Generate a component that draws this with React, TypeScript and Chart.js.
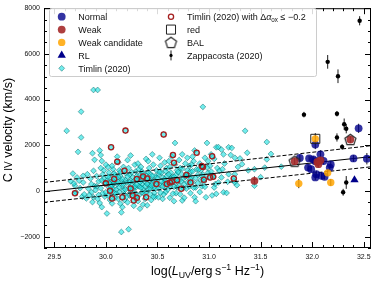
import React, { useEffect, useRef } from 'react';
import { Chart, registerables } from 'chart.js';
import { drawPoint } from 'chart.js/helpers';

Chart.register(...registerables);

const FONT = '"Liberation Sans", Arial, Helvetica, sans-serif';

// ---------- axes ----------
const xLimits = [29.4, 32.57];
const yLimits = [-2500, 8000];
const xTickValues = [29.5, 30.0, 30.5, 31.0, 31.5, 32.0, 32.5];
const xTickLabels = ['29.5', '30.0', '30.5', '31.0', '31.5', '32.0', '32.5'];
const yTickValues = [-2000, 0, 2000, 4000, 6000, 8000];
const yTickLabels = ['\u22122000', '0', '2000', '4000', '6000', '8000'];
const xMinorStep = 0.1;
const yMinorStep = 500;
const xTitle = 'log(*L*_{UV}/erg\u2009s^{\u22121} Hz^{\u22121})';
const yTitle = 'C\u2009~{IV} velocity (km/s)';

// ---------- data ----------
type P = [number, number];

const normalPts: P[] = [
  [31.88, 1440], [31.97, 1420], [32.01, 1380], [32.03, 1300], [32.03, 2030], [32.08, 1600],
  [32.11, 1310], [32.18, 1160], [32.17, 1020], [31.96, 1020], [31.99, 950], [32.04, 730],
  [32.03, 590], [32.09, 660], [32.12, 620], [32.40, 1420], [32.53, 1410], [32.45, 2740],
];
const normalErr = [150, 120, 150, 120, 200, 180, 150, 150, 120, 150, 120, 150, 120, 150, 120, 150, 250, 200];

const weakPts: P[] = [[31.83, 1300], [32.37, 2250], [32.05, 1270], [32.08, 1340], [32.06, 1170], [31.44, 440]];
const weakErr = [150, 150, 200, 150, 150, 200];

const weakCandPts: P[] = [[32.03, 2280], [31.87, 320], [32.15, 790], [32.18, 370]];
const weakCandErr = [250, 200, 150, 150];

const rlPts: P[] = [[32.41, 480]];
const redPts: P[] = [[32.03, 2280]];
const balPts: P[] = [[31.83, 1300], [32.37, 2250]];

const zappPts: P[] = [
  [32.46, 7450], [32.15, 5650], [32.25, 5020], [31.92, 3340], [32.24, 3380], [32.31, 2920],
  [32.33, 2720], [32.24, 2340], [32.29, 1930], [32.33, 370], [32.30, -60],
];
const zappErr = [200, 300, 300, 120, 120, 250, 200, 180, 120, 280, 150];

const timlinWeakAoxPts: P[] = [
  [30.19, 2640], [30.05, 1910], [30.56, 2470], [30.11, 1280], [30.18, 880], [29.70, -100],
  [30.00, 330], [30.08, 520], [30.04, 10], [30.06, -330], [30.16, -280], [30.24, 110],
  [30.26, -200], [30.27, -420], [30.30, -300], [30.30, 520], [30.36, 630], [30.40, 540],
  [30.39, -280], [30.49, 300], [30.59, 300], [30.62, 370], [30.64, 410], [30.69, 470],
  [30.65, 1570], [30.66, 1230], [30.73, 90], [30.78, 700], [30.82, 370], [30.88, 1670],
  [30.93, 1090], [30.94, 1050], [30.95, 490], [31.01, 590], [31.04, 620], [31.03, 1520],
  [31.24, 540],
];

const timlinPts: P[] = [
  [29.62, 2630], [29.68, 760], [29.70, 230], [29.72, 590], [29.66, 420], [29.69, 330], [29.71, -60],
  [29.73, 1710], [29.76, 3470], [29.76, 2340], [29.78, 660], [29.78, 370], [29.75, 120], [29.77, -250],
  [29.74, 450], [29.79, -150],
  [29.82, 730], [29.86, 300], [29.87, 1650], [29.89, 1360], [29.88, 4420], [29.86, -60], [29.87, -490],
  [29.83, 100], [29.85, 540], [29.81, -330], [29.84, -180], [29.88, 880], [29.89, 210], [29.88, -280],
  [29.92, 4420], [29.94, 1770], [29.95, 1570], [29.96, 1310], [29.96, -710], [29.91, 650], [29.93, 420],
  [29.95, 120], [29.97, -100], [29.92, -350], [29.98, 900], [29.99, 310], [29.94, -530], [29.97, 720],
  [29.91, 200], [29.99, -250], [29.95, 1000], [29.98, 540],
  [30.01, -990], [30.02, 1050], [30.03, 800], [30.04, 600], [30.05, 400], [30.06, 250], [30.07, 100],
  [30.08, -80], [30.02, -200], [30.04, -400], [30.06, -550], [30.09, 700], [30.01, 450], [30.03, 150],
  [30.05, -20], [30.07, 950], [30.08, 350], [30.09, -300], [30.00, 1150], [30.06, 1100], [30.10, 550],
  [30.11, 1500], [30.12, 1250], [30.13, 900], [30.14, 650], [30.15, 420], [30.16, 200], [30.17, 30],
  [30.18, -150], [30.14, -560], [30.15, -940], [30.16, -710], [30.15, -1800], [30.12, -350], [30.19, 780],
  [30.11, 300], [30.13, -50], [30.17, 1050], [30.19, 480], [30.12, 600], [30.18, -400],
  [30.22, -1680], [30.21, 1350], [30.22, 1000], [30.23, 700], [30.24, 450], [30.25, 250], [30.26, 80],
  [30.27, -100], [30.28, -300], [30.21, -500], [30.29, 850], [30.23, -200], [30.26, 600], [30.28, 1150],
  [30.24, 1550], [30.20, 350], [30.29, 150], [30.27, -650], [30.22, 120],
  [30.33, -780], [30.31, 1200], [30.32, 950], [30.33, 700], [30.34, 500], [30.35, 300], [30.36, 100],
  [30.37, -120], [30.38, -350], [30.39, 1400], [30.31, -450], [30.35, 850], [30.37, 600], [30.32, 200],
  [30.39, -40], [30.34, 1050], [30.38, 400], [30.30, 650], [30.36, -600],
  [30.40, -630], [30.41, 1300], [30.42, 1000], [30.43, 750], [30.44, 520], [30.45, 320], [30.46, 130],
  [30.47, -90], [30.48, -260], [30.49, 900], [30.42, 250], [30.44, -400], [30.46, 1150], [30.48, 650],
  [30.41, 50], [30.45, 1600], [30.49, 400], [30.43, -150],
  [30.51, -280], [30.52, 1450], [30.53, 1100], [30.54, 800], [30.55, 580], [30.56, 350], [30.57, 150],
  [30.58, -50], [30.59, 1000], [30.52, 250], [30.55, -350], [30.57, 1250], [30.59, 650], [30.51, 700],
  [30.56, -150], [30.58, 400],
  [30.61, 1300], [30.62, 1050], [30.63, 800], [30.64, 600], [30.65, 380], [30.66, 180], [30.67, 2100],
  [30.68, -100], [30.69, 900], [30.62, -300], [30.64, 1500], [30.66, -450], [30.68, 700], [30.61, 250],
  [30.67, 1150], [30.69, 450],
  [30.71, 1350], [30.72, 1000], [30.73, 750], [30.74, -420], [30.75, 550], [30.76, 300], [30.77, 1200],
  [30.78, 100], [30.79, 900], [30.72, -150], [30.74, 1600], [30.76, -300], [30.78, 650], [30.71, 450],
  [30.79, 1450],
  [30.81, 1100], [30.82, 850], [30.83, 600], [30.84, 380], [30.85, 1300], [30.86, -280], [30.86, 1770],
  [30.87, 150], [30.88, 950], [30.82, -100], [30.84, 1500], [30.89, 700], [30.81, 200], [30.87, -450],
  [30.83, 1150],
  [30.91, 1200], [30.92, 900], [30.93, 650], [30.94, 3680], [30.95, 400], [30.96, 1450], [30.97, -280],
  [30.98, 2100], [30.99, 800], [30.91, -50], [30.93, 200], [30.95, 1050], [30.97, 550], [30.99, 1300],
  [31.01, 1100], [31.02, 850], [31.03, -200], [31.04, 600], [31.05, 1400], [31.07, 1910], [31.06, 300],
  [31.08, 1000], [31.09, 1920], [31.10, 880], [31.09, 370], [31.07, -130], [31.02, 1600], [31.05, 150],
  [31.12, 1810], [31.12, 590], [31.14, 1600], [31.14, -60], [31.17, -90], [31.19, 1910], [31.19, 730],
  [31.15, 1200], [31.18, 400], [31.13, 950],
  [31.21, 1570], [31.22, 1880], [31.24, 450], [31.25, 1450], [31.25, 730], [31.25, 370], [31.28, 1050],
  [31.30, 1420], [31.27, 250],
  [31.32, 1170], [31.35, 2630], [31.37, 1670], [31.38, 900],
  [31.44, 950], [31.44, 230], [31.54, 1020], [31.56, 1380], [31.56, 2140], [31.60, 1620], [31.70, 1060],
  [31.50, 600],
  // dense core
  [29.90, 40], [29.93, -180], [29.96, 460], [30.00, -60], [30.02, 620], [30.03, 340], [30.05, 180],
  [30.07, 420], [30.08, 760], [30.10, 60], [30.10, -120], [30.12, 380], [30.13, 160], [30.14, 820],
  [30.16, 520], [30.17, 300], [30.19, 60], [30.20, -260], [30.21, 620], [30.23, 380], [30.24, -60],
  [30.25, 820], [30.27, 420], [30.28, 200], [30.29, -120], [30.30, 280], [30.31, 500], [30.32, -200],
  [30.33, 380], [30.34, 140], [30.35, -60], [30.36, 760], [30.38, 200], [30.39, 680], [30.40, 300],
  [30.41, 820], [30.42, 480], [30.43, 120], [30.44, 240], [30.45, 660], [30.46, -260], [30.47, 420],
  [30.48, 100], [30.50, 560], [30.51, 120], [30.52, 820], [30.53, -80], [30.54, 420], [30.55, 200],
  [30.57, 520], [30.58, 860], [30.60, 60], [30.61, 720], [30.62, 200], [30.63, 540], [30.65, -120],
  [30.66, 620], [30.67, 380], [30.69, 160], [30.70, 820], [30.71, 220], [30.73, 420], [30.74, 980],
  [30.75, 120], [30.77, 620], [30.79, 380], [30.80, 680], [30.82, 520], [30.84, 860], [30.85, 140],
  [30.87, 560], [30.89, 340], [30.90, 940], [30.92, 480], [30.94, 720], [30.96, 180], [30.98, 1020],
];

const fitX = [29.4, 32.57];
const fitMid = [-35, 1500];
const fitUpper = [370, 1980];
const fitLower = [-500, 1055];

// ---------- helpers ----------
const pts = (a: P[]) => a.map(([x, y]) => ({ x, y }));
const linePts = (ys: number[]) => fitX.map((x, i) => ({ x, y: ys[i] }));

function makePentagon(): HTMLCanvasElement {
  const c = document.createElement('canvas');
  c.width = 15;
  c.height = 15;
  const g = c.getContext('2d')!;
  g.strokeStyle = '#2a2a2a';
  g.lineWidth = 1.2;
  g.beginPath();
  for (let i = 0; i < 5; i++) {
    const a = -Math.PI / 2 + (i * 2 * Math.PI) / 5;
    const px = 7.5 + 5.8 * Math.cos(a);
    const py = 8 + 5.8 * Math.sin(a);
    if (i === 0) g.moveTo(px, py);
    else g.lineTo(px, py);
  }
  g.closePath();
  g.stroke();
  return c;
}

type Seg = { t: string; mode: string; it: boolean };
function parseRich(s: string): Seg[] {
  const out: Seg[] = [];
  let buf = '';
  let it = false;
  let i = 0;
  const push = (t: string, mode: string, f: boolean) => {
    if (t) out.push({ t, mode, it: f });
  };
  while (i < s.length) {
    const c = s[i];
    if ((c === '_' || c === '^' || c === '~') && s[i + 1] === '{') {
      push(buf, 'n', it);
      buf = '';
      const end = s.indexOf('}', i + 2);
      push(s.slice(i + 2, end), c === '_' ? 'sub' : c === '^' ? 'sup' : 'small', it);
      i = end + 1;
      continue;
    }
    if (c === '*') {
      push(buf, 'n', it);
      buf = '';
      it = !it;
      i++;
      continue;
    }
    buf += c;
    i++;
  }
  push(buf, 'n', it);
  return out;
}

function drawRich(ctx: CanvasRenderingContext2D, text: string, x: number, y: number, size: number, align: string, color: string) {
  const segs = parseRich(text);
  const sz = (s: Seg) => (s.mode === 'n' ? size : s.mode === 'small' ? size * 0.8 : size * 0.7);
  const fontFor = (s: Seg) => `${s.it ? 'italic ' : ''}${sz(s)}px ${FONT}`;
  let total = 0;
  for (const s of segs) {
    ctx.font = fontFor(s);
    total += ctx.measureText(s.t).width;
  }
  let cx = align === 'center' ? x - total / 2 : x;
  ctx.fillStyle = color;
  ctx.textAlign = 'left';
  ctx.textBaseline = 'alphabetic';
  for (const s of segs) {
    ctx.font = fontFor(s);
    const dy = s.mode === 'sub' ? size * 0.22 : s.mode === 'sup' ? -size * 0.42 : 0;
    ctx.fillText(s.t, cx, y + dy);
    cx += ctx.measureText(s.t).width;
  }
  return total;
}

// ---------- plugins ----------
const frameTicksPlugin = {
  id: 'frameTicks',
  afterDatasetsDraw(chart: any) {
    const { ctx, chartArea: a, scales } = chart;
    const xs = scales.x;
    const ys = scales.y;
    ctx.save();
    ctx.strokeStyle = '#000';
    ctx.lineWidth = 1;
    ctx.beginPath();
    const nx0 = Math.ceil(xLimits[0] / xMinorStep - 1e-6);
    const nx1 = Math.floor(xLimits[1] / xMinorStep + 1e-6);
    for (let i = nx0; i <= nx1; i++) {
      const v = i * xMinorStep;
      const major = xTickValues.some((t) => Math.abs(t - v) < 1e-6);
      const len = major ? 6 : 3;
      const px = Math.round(xs.getPixelForValue(v)) + 0.5;
      ctx.moveTo(px, a.bottom);
      ctx.lineTo(px, a.bottom - len);
      ctx.moveTo(px, a.top);
      ctx.lineTo(px, a.top + len);
    }
    const ny0 = Math.ceil(yLimits[0] / yMinorStep - 1e-6);
    const ny1 = Math.floor(yLimits[1] / yMinorStep + 1e-6);
    for (let i = ny0; i <= ny1; i++) {
      const v = i * yMinorStep;
      const major = yTickValues.some((t) => Math.abs(t - v) < 1e-6);
      const len = major ? 6 : 3;
      const py = Math.round(ys.getPixelForValue(v)) + 0.5;
      ctx.moveTo(a.left, py);
      ctx.lineTo(a.left + len, py);
      ctx.moveTo(a.right, py);
      ctx.lineTo(a.right - len, py);
    }
    ctx.stroke();
    ctx.strokeRect(a.left + 0.5, a.top + 0.5, a.right - a.left - 1, a.bottom - a.top - 1);
    ctx.restore();
  },
};

const errorBarPlugin = {
  id: 'errorBars',
  beforeDatasetsDraw(chart: any) {
    const { ctx, scales } = chart;
    ctx.save();
    ctx.strokeStyle = '#000';
    ctx.lineWidth = 0.9;
    chart.data.datasets.forEach((ds: any) => {
      if (!ds.errY) return;
      ds.data.forEach((p: any, j: number) => {
        const e = ds.errY[j];
        const px = scales.x.getPixelForValue(p.x);
        ctx.beginPath();
        ctx.moveTo(px, scales.y.getPixelForValue(p.y - e));
        ctx.lineTo(px, scales.y.getPixelForValue(p.y + e));
        ctx.stroke();
      });
    });
    ctx.restore();
  },
};

const legendBox = { left: 49.5, top: 8.5, right: 316.5, bottom: 76.5 };
const legendColX = [61.7, 171];
const legendTextX = [78.3, 187];
const legendRowY = [16.7, 29.6, 42.4, 55.4, 68.3];

const legendPlugin = {
  id: 'customLegend',
  afterDraw(chart: any) {
    const { ctx } = chart;
    ctx.save();
    const b = legendBox;
    ctx.beginPath();
    ctx.roundRect(b.left, b.top, b.right - b.left, b.bottom - b.top, 2);
    ctx.fillStyle = 'rgba(255,255,255,0.85)';
    ctx.fill();
    ctx.strokeStyle = '#cccccc';
    ctx.lineWidth = 1;
    ctx.stroke();
    chart.data.datasets.forEach((ds: any) => {
      if (!ds.legendPos) return;
      const [col, row] = ds.legendPos;
      const mx = legendColX[col];
      const my = legendRowY[row];
      if (ds.errY && ds.legendErr) {
        ctx.strokeStyle = '#000';
        ctx.lineWidth = 0.9;
        ctx.beginPath();
        ctx.moveTo(mx, my - 5);
        ctx.lineTo(mx, my + 5);
        ctx.stroke();
      }
      ctx.fillStyle = ds.backgroundColor;
      ctx.strokeStyle = ds.borderColor;
      ctx.lineWidth = ds.borderWidth || 0;
      drawPoint(ctx, {
        pointStyle: ds.pointStyle,
        rotation: 0,
        radius: ds.legendRadius || ds.pointRadius,
        borderWidth: ds.borderWidth || 0,
      } as any, mx, my);
      drawRich(ctx, ds.label, legendTextX[col], my + 3.3, 9, 'left', '#111');
    });
    ctx.restore();
  },
};

const titlesPlugin = {
  id: 'axisTitles',
  afterDraw(chart: any) {
    const { ctx, chartArea: a } = chart;
    ctx.save();
    drawRich(ctx, xTitle, (a.left + a.right) / 2, 275, 12.5, 'center', '#000');
    ctx.translate(7.5, (a.top + a.bottom) / 2 + 2);
    ctx.rotate(-Math.PI / 2);
    drawRich(ctx, yTitle, 0, 4.3, 12.5, 'center', '#000');
    ctx.restore();
  },
};

export default function App() {
  const ref = useRef<HTMLCanvasElement | null>(null);

  useEffect(() => {
    if (!ref.current) return;
    const pentagon = makePentagon();
    const chart = new Chart(ref.current, {
      type: 'scatter',
      data: {
        datasets: [
          {
            label: 'Zappacosta (2020)',
            data: pts(zappPts),
            errY: zappErr,
            legendErr: true,
            legendPos: [1, 3],
            pointStyle: 'circle',
            pointRadius: 2.2,
            legendRadius: 1.6,
            backgroundColor: '#000',
            borderColor: '#000',
            borderWidth: 0,
          },
          {
            label: 'red',
            data: pts(redPts),
            legendPos: [1, 1],
            pointStyle: 'rect',
            pointRadius: 6.4,
            legendRadius: 6.4,
            backgroundColor: 'rgba(0,0,0,0)',
            borderColor: '#222',
            borderWidth: 1,
          },
          {
            label: 'BAL',
            data: pts(balPts),
            legendPos: [1, 2],
            pointStyle: pentagon,
            pointRadius: 6,
            backgroundColor: 'rgba(0,0,0,0)',
            borderColor: '#333',
            borderWidth: 1,
          },
          {
            label: 'RL',
            data: pts(rlPts),
            legendPos: [0, 3],
            pointStyle: 'triangle',
            pointRadius: 4.8,
            backgroundColor: '#00008b',
            borderColor: '#00008b',
            borderWidth: 0,
          },
          {
            label: 'Weak candidate',
            data: pts(weakCandPts),
            errY: weakCandErr,
            legendPos: [0, 2],
            pointStyle: 'circle',
            pointRadius: 3.7,
            backgroundColor: 'rgba(255,165,0,0.85)',
            borderColor: 'rgba(255,165,0,0.85)',
            borderWidth: 0,
          },
          {
            label: 'Weak',
            data: pts(weakPts),
            errY: weakErr,
            legendPos: [0, 1],
            pointStyle: 'circle',
            pointRadius: 3.9,
            backgroundColor: 'rgba(165,42,42,0.9)',
            borderColor: 'rgba(165,42,42,0.9)',
            borderWidth: 0,
          },
          {
            label: 'Normal',
            data: pts(normalPts),
            errY: normalErr,
            legendPos: [0, 0],
            pointStyle: 'circle',
            pointRadius: 3.9,
            backgroundColor: 'rgba(0,0,139,0.8)',
            borderColor: 'rgba(0,0,139,0.8)',
            borderWidth: 0,
          },
          {
            label: 'fit',
            data: linePts(fitMid),
            showLine: true,
            pointRadius: 0,
            borderColor: '#000',
            borderWidth: 1,
          },
          {
            label: 'fit upper',
            data: linePts(fitUpper),
            showLine: true,
            pointRadius: 0,
            borderColor: '#000',
            borderWidth: 1,
            borderDash: [4, 2],
          },
          {
            label: 'fit lower',
            data: linePts(fitLower),
            showLine: true,
            pointRadius: 0,
            borderColor: '#000',
            borderWidth: 1,
            borderDash: [4, 2],
          },
          {
            label: 'Timlin (2020) with \u0394*\u03b1*_{ox} \u2264 \u22120.2',
            data: pts(timlinWeakAoxPts),
            legendPos: [1, 0],
            pointStyle: 'circle',
            pointRadius: 2.6,
            backgroundColor: 'rgba(0,0,0,0)',
            borderColor: '#a52020',
            borderWidth: 1.3,
          },
          {
            label: 'Timlin (2020)',
            data: pts([...timlinPts, ...timlinWeakAoxPts]),
            legendPos: [0, 4],
            pointStyle: 'rectRot',
            pointRadius: 2.9,
            backgroundColor: 'rgba(20,225,225,0.6)',
            borderColor: 'rgba(0,95,95,0.6)',
            borderWidth: 0.8,
          },
        ] as any,
      },
      options: {
        animation: false,
        responsive: false,
        devicePixelRatio: 1,
        events: [],
        layout: { padding: { top: 5, right: 11, left: 0, bottom: 0 } },
        plugins: { legend: { display: false }, tooltip: { enabled: false } },
        scales: {
          x: {
            type: 'linear',
            min: xLimits[0],
            max: xLimits[1],
            grid: { display: false, drawTicks: false },
            border: { display: false },
            ticks: {
              autoSkip: false,
              maxRotation: 0,
              padding: 5,
              color: '#111',
              font: { family: FONT, size: 7 },
              callback: (v: any) => {
                const i = xTickValues.findIndex((t) => Math.abs(t - v) < 1e-6);
                return i >= 0 ? xTickLabels[i] : '';
              },
            },
            afterBuildTicks: (s: any) => {
              s.ticks = xTickValues.map((v) => ({ value: v }));
            },
            afterFit: (s: any) => {
              s.height = 33;
            },
          },
          y: {
            type: 'linear',
            min: yLimits[0],
            max: yLimits[1],
            grid: { display: false, drawTicks: false },
            border: { display: false },
            ticks: {
              autoSkip: false,
              padding: 4,
              color: '#111',
              font: { family: FONT, size: 7 },
              callback: (v: any) => {
                const i = yTickValues.findIndex((t) => Math.abs(t - v) < 1e-6);
                return i >= 0 ? yTickLabels[i] : '';
              },
            },
            afterBuildTicks: (s: any) => {
              s.ticks = yTickValues.map((v) => ({ value: v }));
            },
            afterFit: (s: any) => {
              s.width = 44;
            },
          },
        },
      } as any,
      plugins: [errorBarPlugin, frameTicksPlugin, legendPlugin, titlesPlugin],
    });
    return () => chart.destroy();
  }, []);

  return (
    <div style={{ position: 'fixed', left: 0, top: 0, width: 382, height: 281, background: '#fff' }}>
      <canvas ref={ref} width={382} height={281} style={{ display: 'block' }} />
    </div>
  );
}
